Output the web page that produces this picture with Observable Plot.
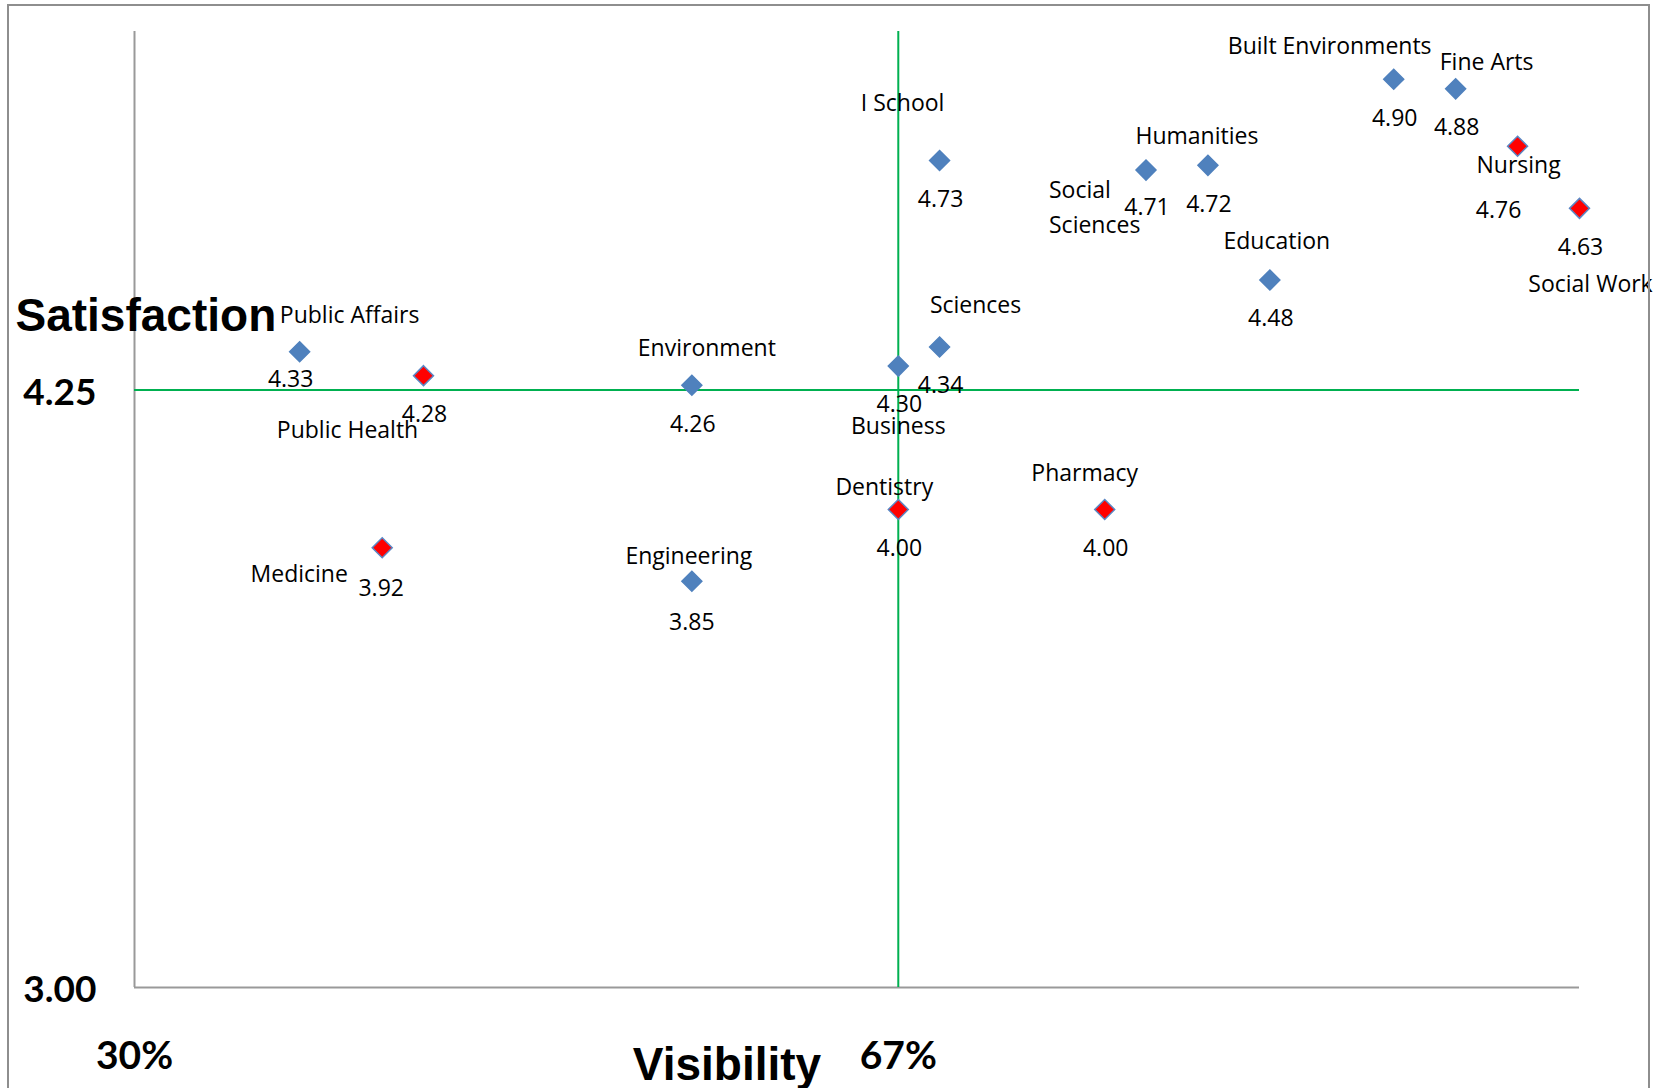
<!DOCTYPE html>
<html>
<head>
<meta charset="utf-8">
<script src="https://cdn.jsdelivr.net/npm/d3@7"></script>
<script src="https://cdn.jsdelivr.net/npm/@observablehq/plot@0.6"></script>
<style>
  html, body { margin: 0; padding: 0; background: #fff; }
  #wrap { position: relative; width: 1673px; height: 1088px; overflow: hidden; }
  #chart { position: absolute; left: 0; top: 0; }
  #border { position: absolute; left: 7px; top: 4px; width: 1643px; height: 1120px;
            border: 2px solid #8e8e8e; box-sizing: border-box; pointer-events: none; }
</style>
</head>
<body>
<div id="wrap"><div id="chart"></div><div id="border"></div></div>
<script>
// ---------- data ----------
const schools = ["Public Affairs", "Public Health", "Medicine", "Environment", "Engineering",
  "Business", "Sciences", "Dentistry", "Pharmacy", "I School", "Social Sciences", "Humanities",
  "Education", "Built Environments", "Fine Arts", "Nursing", "Social Work"];
const visibility = [38, 44, 42, 57, 57, 67, 69, 67, 77, 69, 79, 82, 85, 91, 94, 97, 100];
const satisfaction = [4.33, 4.28, 3.92, 4.26, 3.85, 4.30, 4.34, 4.00, 4.00, 4.73, 4.71, 4.72,
  4.48, 4.90, 4.88, 4.76, 4.63];
const highlighted = ["Public Health", "Medicine", "Dentistry", "Pharmacy", "Nursing", "Social Work"];
const yTicks = [3.00, 4.25];
const xTicks = [30, 67];
const xMedian = 67;
const yMedian = 4.25;
const yTitle = "Satisfaction";
const xTitle = "Visibility";
const labelText = { "Social Sciences": "Social\nSciences" };

// ---------- label layout (pixel offsets from each point) ----------
const nameOffset = {
  "Public Affairs": [50, -36], "Public Health": [-76, 55], "Medicine": [-83, 27],
  "Environment": [15, -37], "Engineering": [-3, -25], "Business": [0, 61],
  "Sciences": [36, -41], "Dentistry": [-14, -22], "Pharmacy": [-20, -36],
  "I School": [-37, -57], "Social Sciences": [-97, 34], "Humanities": [-11, -29],
  "Education": [7, -38], "Built Environments": [-64, -33], "Fine Arts": [31, -26],
  "Nursing": [1, 19], "Social Work": [11, 76]
};
const valueOffset = {
  "Public Affairs": [-9, 28], "Medicine": [-1, 41], "Engineering": [0, 41],
  "Nursing": [-19, 64], "Social Sciences": [1, 38]
};
const defaultValueOffset = [1, 39];

const data = schools.map((s, i) => ({
  school: s, vis: visibility[i], sat: satisfaction[i], hl: highlighted.includes(s)
}));

const FONT = "'Open Sans', Lato, sans-serif";
const TICK_FONT = "Lato, 'Open Sans', sans-serif";
const BOLD_FONT = "'Liberation Sans', Arial, sans-serif";
const LABEL_SIZE = 23;

const nameMarks = data.map(d => {
  const [dx, dy] = nameOffset[d.school];
  const multi = d.school in labelText;
  return Plot.text([d], {
    x: "vis", y: "sat", text: r => labelText[r.school] ?? r.school,
    dx, dy, fontSize: LABEL_SIZE, fontFamily: FONT, fill: "#000",
    textAnchor: multi ? "start" : "middle", lineAnchor: "middle",
    lineHeight: multi ? 35 / LABEL_SIZE : 1
  });
});
const valueMarks = data.map(d => {
  const [dx, dy] = valueOffset[d.school] ?? defaultValueOffset;
  return Plot.text([d], {
    x: "vis", y: "sat", text: r => r.sat.toFixed(2),
    dx, dy, fontSize: LABEL_SIZE, fontFamily: FONT, fill: "#000", lineAnchor: "middle"
  });
});

const chart = Plot.plot({
  width: 1673,
  height: 1088,
  marginLeft: 134,
  marginRight: 94,
  marginTop: 31,
  marginBottom: 101,
  x: { domain: [30, 100], axis: null },
  y: { domain: [3, 5], axis: null },
  style: { background: "transparent" },
  marks: [
    // axes lines
    Plot.ruleX([xTicks[0]], { stroke: "#999", strokeWidth: 2 }),
    Plot.ruleY([yTicks[0]], { stroke: "#999", strokeWidth: 2 }),
    // median cross-hair
    Plot.ruleX([xMedian], { stroke: "#00B050", strokeWidth: 2 }),
    Plot.ruleY([yMedian], { stroke: "#00B050", strokeWidth: 2 }),
    // tick labels
    Plot.text(yTicks, {
      y: d => d, frameAnchor: "left", dx: -38, dy: 3, textAnchor: "end", lineAnchor: "middle",
      text: d => d.toFixed(2), fontSize: 37, fontWeight: "bold", fontFamily: TICK_FONT, fill: "#000"
    }),
    Plot.text(xTicks, {
      x: d => d, frameAnchor: "bottom", dy: 69, lineAnchor: "middle",
      text: d => d + "%", fontSize: 39, fontWeight: "bold", fontFamily: TICK_FONT, fill: "#000"
    }),
    // axis titles
    Plot.text([yTitle], {
      frameAnchor: "top-left", dx: -119, dy: 285, textAnchor: "start", lineAnchor: "middle",
      fontSize: 46, fontWeight: "bold", fontFamily: BOLD_FONT, fill: "#000"
    }),
    Plot.text([xTitle], {
      frameAnchor: "bottom", dx: -130, dy: 78, lineAnchor: "middle",
      fontSize: 46, fontWeight: "bold", fontFamily: BOLD_FONT, fill: "#000"
    }),
    // points
    Plot.dot(data, {
      x: "vis", y: "sat", symbol: "diamond2", r: 9,
      fill: d => d.hl ? "#FF0000" : "#4F81BD",
      stroke: d => d.hl ? "#5B87C4" : "#4F81BD", strokeWidth: 1.5
    }),
    ...nameMarks,
    ...valueMarks
  ]
});
document.getElementById("chart").appendChild(chart);
</script>
</body>
</html>
